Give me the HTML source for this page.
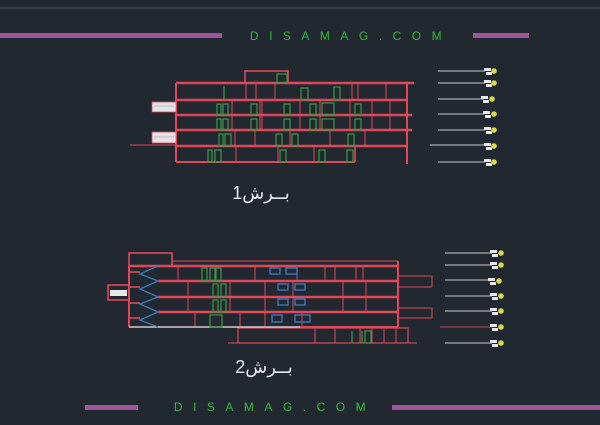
<!DOCTYPE html>
<html><head><meta charset="utf-8"><style>
html,body{margin:0;padding:0;background:#212830;width:600px;height:425px;overflow:hidden}
svg{display:block}
</style></head><body>
<svg width="600" height="425" viewBox="0 0 600 425" xmlns="http://www.w3.org/2000/svg">
<rect width="600" height="425" fill="#212830"/>
<line x1="0" y1="8" x2="600" y2="8" stroke="#4a5058" stroke-width="1"/>
<rect x="0" y="33" width="222" height="5" fill="#a0559a"/>
<rect x="473" y="33" width="56" height="5" fill="#a0559a"/>
<text x="351" y="40" text-anchor="middle" font-family="Liberation Sans, sans-serif" font-size="12" letter-spacing="10.5" fill="#2fb83a">DISAMAG.COM</text>
<rect x="85" y="405" width="53" height="5" fill="#a0559a"/>
<rect x="392" y="405" width="208" height="5" fill="#a0559a"/>
<text x="275" y="411" text-anchor="middle" font-family="Liberation Sans, sans-serif" font-size="12" letter-spacing="10.5" fill="#2fb83a">DISAMAG.COM</text>

<g stroke="#e0485a" stroke-width="1.6" fill="none">
<rect x="245" y="71" width="43" height="12"/>
<line x1="176" y1="83" x2="414" y2="83" stroke-width="2.5"/>
<line x1="176" y1="100" x2="407" y2="100" stroke-width="2.5"/>
<line x1="176" y1="115" x2="412" y2="115" stroke-width="2.5"/>
<line x1="176" y1="130" x2="412" y2="130" stroke-width="2.5"/>
<line x1="176" y1="146" x2="407" y2="146" stroke-width="2.5"/>
<line x1="176" y1="162" x2="355" y2="162" stroke-width="2"/>
<line x1="176" y1="83" x2="176" y2="162" stroke-width="2"/>
<line x1="407" y1="83" x2="407" y2="164" stroke-width="2"/>
<line x1="355" y1="146" x2="355" y2="162"/>
<line x1="130" y1="145" x2="176" y2="145" stroke-width="1"/>
<g stroke-width="1">
<line x1="246" y1="83" x2="246" y2="100"/><line x1="256" y1="83" x2="256" y2="100"/><line x1="275" y1="83" x2="275" y2="100"/><line x1="352" y1="83" x2="352" y2="100"/><line x1="358" y1="83" x2="358" y2="100"/><line x1="386" y1="83" x2="386" y2="100"/>
<line x1="232" y1="100" x2="232" y2="130"/><line x1="260" y1="100" x2="260" y2="130"/><line x1="262" y1="100" x2="262" y2="130"/><line x1="300" y1="100" x2="300" y2="130"/><line x1="320" y1="100" x2="320" y2="130"/><line x1="350" y1="100" x2="350" y2="130"/><line x1="372" y1="100" x2="372" y2="130"/><line x1="390" y1="100" x2="390" y2="130"/>
<line x1="235" y1="130" x2="235" y2="146"/><line x1="255" y1="130" x2="255" y2="146"/><line x1="290" y1="130" x2="290" y2="146"/><line x1="330" y1="130" x2="330" y2="146"/><line x1="365" y1="130" x2="365" y2="146"/>
<line x1="236" y1="146" x2="236" y2="162"/><line x1="278" y1="146" x2="278" y2="162"/><line x1="314" y1="146" x2="314" y2="162"/>
</g>
</g>
<g stroke="#3a9a48" stroke-width="1.2" fill="none">
<rect x="277" y="74" width="10" height="9"/>
<line x1="224" y1="86" x2="224" y2="100"/>
<rect x="301" y="88" width="7" height="12"/><rect x="334" y="87" width="6" height="13"/>
<rect x="217" y="104" width="4" height="11"/><rect x="223" y="104" width="5" height="11"/><rect x="251" y="104" width="6" height="11"/><rect x="284" y="104" width="6" height="11"/><rect x="310" y="104" width="6" height="11"/><rect x="322" y="103" width="12" height="12"/><rect x="355" y="104" width="6" height="11"/>
<rect x="217" y="119" width="4" height="11"/><rect x="223" y="119" width="5" height="11"/><rect x="251" y="119" width="6" height="11"/><rect x="284" y="119" width="6" height="11"/><rect x="310" y="119" width="6" height="11"/><rect x="322" y="119" width="12" height="11"/><rect x="355" y="119" width="6" height="11"/>
<rect x="219" y="134" width="4" height="12"/><rect x="225" y="134" width="6" height="12"/><rect x="276" y="134" width="6" height="12"/><rect x="292" y="134" width="6" height="12"/><rect x="348" y="134" width="6" height="12"/>
<rect x="208" y="150" width="4" height="12"/><rect x="215" y="150" width="6" height="12"/><rect x="280" y="150" width="6" height="12"/><rect x="319" y="150" width="6" height="12"/><rect x="347" y="150" width="6" height="12"/>
</g>
<g fill="#e4e4e8" stroke="#e0485a" stroke-width="0.8">
<rect x="152" y="102" width="24" height="10"/><rect x="152" y="132" width="24" height="11"/>
</g>
<g stroke="#8a8a95" stroke-width="0.6">
<line x1="154" y1="106" x2="174" y2="106"/><line x1="154" y1="137" x2="174" y2="137"/>
</g>

<g stroke="#e0485a" stroke-width="1.6" fill="none">
<rect x="129" y="253" width="43" height="13"/>
<line x1="172" y1="261" x2="398" y2="261" stroke-width="1"/>
<line x1="129" y1="266" x2="398" y2="266" stroke-width="2.5"/>
<line x1="158" y1="281" x2="398" y2="281" stroke-width="2.5"/>
<line x1="158" y1="297" x2="398" y2="297" stroke-width="2.5"/>
<line x1="158" y1="312" x2="398" y2="312" stroke-width="2.5"/>
<line x1="129" y1="266" x2="129" y2="327" stroke-width="2"/>
<line x1="398" y1="261" x2="398" y2="327" stroke-width="2"/>
<line x1="300" y1="327" x2="398" y2="327" stroke-width="2"/>
<line x1="129" y1="272" x2="140" y2="272"/><line x1="129" y1="287" x2="140" y2="287"/><line x1="129" y1="303" x2="140" y2="303"/><line x1="129" y1="318" x2="140" y2="318"/>
<rect x="108" y="285" width="21" height="15"/>
<rect x="398" y="276" width="34" height="11" stroke-width="1"/>
<rect x="398" y="308" width="34" height="10" stroke-width="1"/>
<rect x="238" y="328" width="170" height="15" stroke-width="1.2"/>
<line x1="228" y1="343" x2="417" y2="343" stroke-width="1"/>
<g stroke-width="1">
<line x1="178" y1="266" x2="178" y2="281"/><line x1="255" y1="266" x2="255" y2="281"/><line x1="297" y1="266" x2="297" y2="281"/><line x1="325" y1="266" x2="325" y2="281"/><line x1="335" y1="266" x2="335" y2="281"/><line x1="356" y1="266" x2="356" y2="281"/><line x1="363" y1="266" x2="363" y2="281"/>
<line x1="188" y1="281" x2="188" y2="312"/><line x1="230" y1="281" x2="230" y2="312"/><line x1="265" y1="281" x2="265" y2="327"/><line x1="293" y1="281" x2="293" y2="312"/><line x1="343" y1="281" x2="343" y2="312"/><line x1="366" y1="281" x2="366" y2="312"/>
<line x1="195" y1="312" x2="195" y2="327"/><line x1="240" y1="312" x2="240" y2="327"/><line x1="302" y1="312" x2="302" y2="327"/>
<line x1="315" y1="328" x2="315" y2="343"/><line x1="335" y1="328" x2="335" y2="343"/><line x1="360" y1="328" x2="360" y2="343"/><line x1="372" y1="328" x2="372" y2="343"/><line x1="384" y1="328" x2="384" y2="343"/><line x1="396" y1="328" x2="396" y2="343"/>
</g>
</g>
<line x1="129" y1="327" x2="300" y2="327" stroke="#d8c8d0" stroke-width="1.5"/>
<g stroke="#3a7ab8" stroke-width="1.4" fill="none">
<polyline points="158,266 140,274 158,281 140,289 158,297 140,304 158,312 140,320 158,327"/>
<rect x="270" y="268" width="10" height="6"/><rect x="286" y="268" width="11" height="6"/>
<rect x="278" y="284" width="10" height="6"/><rect x="295" y="284" width="10" height="6"/>
<rect x="278" y="299" width="10" height="6"/><rect x="295" y="299" width="10" height="6"/>
<rect x="272" y="315" width="10" height="7"/><rect x="295" y="315" width="15" height="7"/>
</g>
<g stroke="#3a9a48" stroke-width="1.2" fill="none">
<rect x="202" y="268" width="5" height="13"/><rect x="210" y="268" width="5" height="13"/><rect x="216" y="268" width="5" height="13"/>
<rect x="213" y="284" width="5" height="13"/><rect x="221" y="284" width="5" height="13"/>
<rect x="213" y="300" width="5" height="12"/><rect x="221" y="300" width="5" height="12"/>
<rect x="210" y="315" width="12" height="12"/>
<line x1="352" y1="331" x2="352" y2="343"/><line x1="362" y1="331" x2="362" y2="343"/><rect x="365" y="331" width="6" height="12"/>
</g>
<g fill="#e8e8ec"><rect x="110" y="290" width="17" height="6"/></g>

<g stroke="#c8c8cc" stroke-width="1">
<line x1="438" y1="71" x2="485" y2="71"/><line x1="438" y1="83" x2="485" y2="83"/><line x1="438" y1="99" x2="484" y2="99"/><line x1="438" y1="114" x2="484" y2="114"/><line x1="438" y1="130" x2="485" y2="130"/><line x1="430" y1="145" x2="485" y2="145"/><line x1="438" y1="162" x2="485" y2="162"/>
<line x1="445" y1="253" x2="492" y2="253"/><line x1="445" y1="265" x2="492" y2="265"/><line x1="445" y1="280" x2="490" y2="280"/><line x1="445" y1="296" x2="492" y2="296"/><line x1="445" y1="311" x2="492" y2="311"/><line x1="440" y1="327" x2="492" y2="327" stroke="#c04050"/><line x1="445" y1="343" x2="492" y2="343"/>
</g>
<g fill="#e8e8ec">
<rect x="484" y="68" width="7" height="3"/><rect x="486" y="72" width="6" height="3"/>
<rect x="484" y="80" width="7" height="3"/><rect x="486" y="84" width="6" height="3"/>
<rect x="481" y="96" width="7" height="3"/><rect x="483" y="100" width="6" height="3"/>
<rect x="483" y="111" width="7" height="3"/><rect x="485" y="115" width="6" height="3"/>
<rect x="484" y="127" width="7" height="3"/><rect x="486" y="131" width="6" height="3"/>
<rect x="484" y="143" width="7" height="3"/><rect x="486" y="147" width="6" height="3"/>
<rect x="484" y="159" width="7" height="3"/><rect x="486" y="163" width="6" height="3"/>
<rect x="490" y="250" width="7" height="3"/><rect x="492" y="254" width="6" height="3"/>
<rect x="490" y="262" width="7" height="3"/><rect x="492" y="266" width="6" height="3"/>
<rect x="488" y="278" width="7" height="3"/><rect x="490" y="282" width="6" height="3"/>
<rect x="490" y="293" width="7" height="3"/><rect x="492" y="297" width="6" height="3"/>
<rect x="490" y="308" width="7" height="3"/><rect x="492" y="312" width="6" height="3"/>
<rect x="490" y="324" width="7" height="3"/><rect x="492" y="328" width="6" height="3"/>
<rect x="490" y="340" width="7" height="3"/><rect x="492" y="344" width="6" height="3"/>
</g>
<g fill="#d8d848">
<circle cx="494" cy="71" r="2.8"/><circle cx="494" cy="83" r="2.8"/><circle cx="492" cy="99" r="2.8"/><circle cx="494" cy="114" r="2.8"/><circle cx="494" cy="130" r="2.8"/><circle cx="494" cy="146" r="2.8"/><circle cx="494" cy="162" r="2.8"/>
<circle cx="501" cy="253" r="2.8"/><circle cx="501" cy="265" r="2.8"/><circle cx="499" cy="281" r="2.8"/><circle cx="501" cy="296" r="2.8"/><circle cx="501" cy="311" r="2.8"/><circle cx="501" cy="327" r="2.8"/><circle cx="501" cy="343" r="2.8"/>
</g>

<text x="261" y="199" text-anchor="middle" font-family="Liberation Sans, 'DejaVu Sans', sans-serif" font-size="18" fill="#e8e8ec">بــرش1</text>
<text x="264" y="373" text-anchor="middle" font-family="Liberation Sans, 'DejaVu Sans', sans-serif" font-size="18" fill="#e8e8ec">بــرش2</text>
</svg>
</body></html>
